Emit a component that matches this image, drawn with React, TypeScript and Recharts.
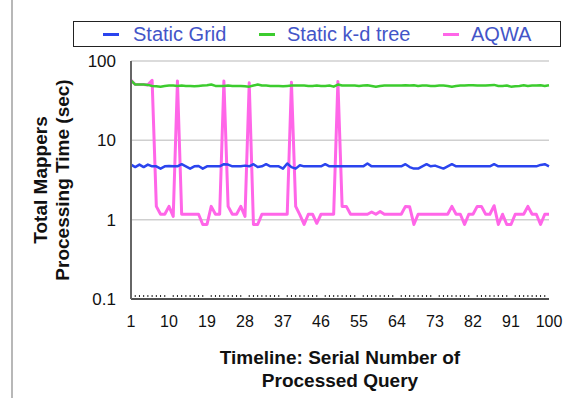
import React from 'react';
import { LineChart, Line, XAxis, YAxis, CartesianGrid } from 'recharts';

const FONT = '"Liberation Sans", Arial, Helvetica, sans-serif';

// serial number of processed query (1..100)
const queryIds = Array.from({ length: 100 }, (_, i) => i + 1);
const xLabelIds = [1, 10, 19, 28, 37, 46, 55, 64, 73, 82, 91, 100];
const yTicks = [0.1, 1, 10, 100];

// processing time in seconds
const staticGrid = [
  4.95, 4.6, 4.95, 4.6, 4.95, 4.7, 4.7, 4.4, 4.7, 4.75,
  4.7, 4.7, 5.0, 4.7, 4.4, 4.7, 4.75, 4.4, 4.7, 4.7,
  4.7, 4.7, 5.0, 4.95, 4.7, 4.7, 4.7, 4.8, 4.7, 5.0,
  4.6, 4.7, 5.0, 4.7, 4.7, 4.7, 4.4, 5.1, 4.6, 4.4,
  4.85, 4.7, 4.7, 4.7, 4.7, 4.7, 5.0, 4.7, 4.7, 4.7,
  4.7, 4.7, 4.7, 4.7, 4.7, 4.7, 5.1, 4.7, 4.7, 4.7,
  4.7, 4.7, 4.7, 4.7, 4.7, 5.0, 4.6, 4.4, 4.4, 4.7,
  5.0, 4.7, 4.8, 4.6, 4.4, 4.7, 5.0, 4.7, 4.7, 4.7,
  4.7, 4.7, 4.7, 4.7, 4.7, 4.7, 5.0, 4.7, 4.7, 4.7,
  4.7, 4.7, 4.7, 4.7, 4.7, 4.7, 4.7, 4.9, 5.0, 4.7,
];

const staticKdTree = [
  57, 50.5, 50.5, 50.5, 50, 48.5, 48, 47.5, 48.5, 49,
  49, 48.5, 49, 48.5, 48.5, 48, 48.5, 49, 49.5, 50.5,
  48.5, 48.5, 48.5, 49, 48.5, 48.5, 48.5, 48, 47.5, 49,
  50.5, 49, 49, 48.5, 48.5, 48.5, 48, 48.5, 49, 49,
  49, 49, 48.5, 48.5, 49, 48.5, 48.5, 49, 47.5, 50.5,
  49, 49, 49, 49, 48.5, 49, 49.5, 48.5, 47.5, 48.5,
  49, 49, 49, 49, 49, 49.5, 49, 49.5, 48.5, 49,
  49, 48.5, 48.5, 49, 49, 48.5, 47.5, 48.5, 49, 49,
  49.5, 49.5, 49, 49, 49, 49.5, 50, 48.5, 48.5, 49,
  47.5, 48, 48.5, 49.5, 48.5, 49, 49, 49.5, 48.5, 49.5,
];

const aqwa = [
  57, 50.5, 50.5, 50.5, 50, 57, 1.47, 1.17, 1.17, 1.47,
  1.1, 56, 1.17, 1.17, 1.17, 1.17, 1.17, 0.87, 0.87, 1.47,
  1.17, 1.17, 56, 1.47, 1.17, 1.17, 1.47, 1.1, 53, 0.87,
  0.87, 1.17, 1.17, 1.17, 1.17, 1.17, 1.17, 1.17, 54, 1.47,
  1.15, 0.87, 1.17, 1.17, 0.9, 1.17, 1.17, 1.17, 1.17, 55,
  1.47, 1.47, 1.17, 1.17, 1.17, 1.17, 1.17, 1.25, 1.17, 1.27,
  1.17, 1.17, 1.17, 1.17, 1.17, 1.47, 1.45, 0.87, 1.17, 1.17,
  1.17, 1.17, 1.17, 1.17, 1.17, 1.17, 1.47, 1.17, 1.17, 0.87,
  1.17, 1.17, 1.47, 1.47, 1.17, 1.17, 1.5, 0.87, 1.17, 0.87,
  0.87, 1.17, 1.17, 1.17, 1.47, 1.17, 1.17, 0.87, 1.17, 1.17,
];

const data = queryIds.map((id, i) => ({
  id,
  grid: staticGrid[i],
  kdtree: staticKdTree[i],
  aqwa: aqwa[i],
}));

const BLUE = '#2a44ee';
const GREEN = '#3ccc2e';
const PINK = '#ff66e8';

function XTick(props: any) {
  const { x, y, payload } = props;
  const v = payload.value;
  if (xLabelIds.includes(v)) {
    return (
      <text x={x} y={y + 28} textAnchor="middle" fontSize={16} fill="#111" fontFamily={FONT}>
        {v}
      </text>
    );
  }
  return <line x1={x} x2={x} y1={y - 4} y2={y - 2} stroke="#222" strokeWidth={1} />;
}

const legendItems = [
  { label: 'Static Grid', color: BLUE, dash: 103, text: 133 },
  { label: 'Static k-d tree', color: GREEN, dash: 259, text: 287 },
  { label: 'AQWA', color: PINK, dash: 443, text: 471 },
];

export default function App() {
  return (
    <div style={{ position: 'absolute', left: 0, top: 0, width: 575, height: 398, background: '#fff', fontFamily: FONT, overflow: 'hidden' }}>
      <div style={{ position: 'absolute', left: 11, top: 0, width: 2, height: 398, background: '#b8b8b8' }} />

      <div style={{ position: 'absolute', left: 73, top: 21, width: 486, height: 24, border: '1.5px solid #222' }}>
        {legendItems.map((it) => (
          <React.Fragment key={it.label}>
            <div style={{ position: 'absolute', left: it.dash - 74, top: 11, width: 16, height: 2.5, background: it.color }} />
            <div style={{ position: 'absolute', left: it.text - 74, top: 0, lineHeight: '24px', fontSize: 20, color: '#4355c8', whiteSpace: 'nowrap' }}>
              {it.label}
            </div>
          </React.Fragment>
        ))}
      </div>

      <div style={{ position: 'absolute', left: 0, top: 0 }}>
        <LineChart width={575} height={398} data={data} margin={{ top: 61, right: 26, bottom: 69, left: 71 }}>
          <CartesianGrid vertical={false} stroke="#cfcfcf" strokeWidth={1.5} />
          <XAxis
            dataKey="id"
            type="number"
            domain={[1, 100]}
            ticks={queryIds}
            interval={0}
            tick={<XTick />}
            tickLine={false}
            tickSize={0}
            tickMargin={0}
            height={30}
            axisLine={{ stroke: '#222', strokeWidth: 1.5 }}
          />
          <YAxis
            type="number"
            scale="log"
            domain={[0.1, 100]}
            ticks={yTicks}
            allowDataOverflow
            width={60}
            tickLine={false}
            tickSize={0}
            tickMargin={15}
            tick={{ fontSize: 17, fill: '#111', fontFamily: FONT }}
            axisLine={{ stroke: '#666', strokeWidth: 2 }}
          />
          <Line dataKey="aqwa" stroke={PINK} strokeWidth={3} dot={false} strokeLinejoin="round" isAnimationActive={false} />
          <Line dataKey="grid" stroke={BLUE} strokeWidth={2.5} dot={false} strokeLinejoin="round" isAnimationActive={false} />
          <Line dataKey="kdtree" stroke={GREEN} strokeWidth={2.5} dot={false} strokeLinejoin="round" isAnimationActive={false} />
        </LineChart>
      </div>

      <svg width={575} height={398} style={{ position: 'absolute', left: 0, top: 0, pointerEvents: 'none' }}>
        <g transform="translate(51,180) rotate(-90)" fontFamily={FONT} fontWeight="bold" fontSize={19} fill="#111" textAnchor="middle">
          <text x={0} y={-4}>Total Mappers</text>
          <text x={0} y={18}>Processing Time (sec)</text>
        </g>
        <g fontFamily={FONT} fontWeight="bold" fontSize={19} fill="#111" textAnchor="middle">
          <text x={340} y={364}>Timeline: Serial Number of</text>
          <text x={340} y={387}>Processed Query</text>
        </g>
      </svg>
    </div>
  );
}
